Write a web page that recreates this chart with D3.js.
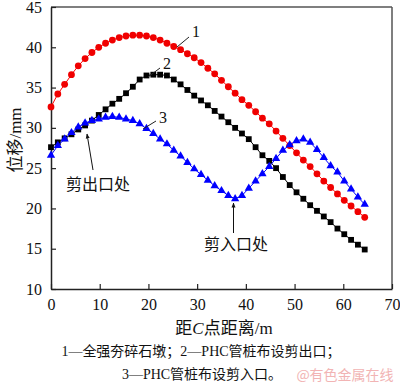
<!DOCTYPE html>
<html>
<head>
<meta charset="utf-8">
<script src="https://cdn.jsdelivr.net/npm/d3@7"></script>
<style>
  body { margin: 0; background: #fff; }
  svg { display: block; }
</style>
</head>
<body>
<svg id="chart" width="400" height="385"></svg>
<script>
// distance from point C (m), shared by all three series
const distance = [0, 1.4, 2.8, 4.2, 5.6, 7.0, 8.4, 9.8, 11.2, 12.6, 14.0, 15.4, 16.8, 18.2, 19.6, 21.0,
  22.4, 23.8, 25.2, 26.6, 28.0, 29.4, 30.8, 32.2, 33.6, 35.0, 36.4, 37.8, 39.2, 40.6, 42.0, 43.4,
  44.8, 46.2, 47.6, 49.0, 50.4, 51.8, 53.2, 54.6, 56.0, 57.4, 58.8, 60.2, 61.6, 63.0, 64.4];

// 1 — full dynamic-compaction gravel piers
const series1 = [32.6, 34.2, 35.4, 36.6, 37.7, 38.6, 39.35, 40.0, 40.5, 40.9, 41.2, 41.4, 41.5, 41.5, 41.4, 41.2,
  40.9, 40.5, 40.1, 39.7, 39.2, 38.7, 38.1, 37.4, 36.7, 35.9, 35.1, 34.3, 33.5, 32.8, 32.0, 31.2,
  30.5, 29.6, 28.7, 27.8, 26.9, 26.0, 25.2, 24.3, 23.4, 22.6, 21.8, 21.0, 20.3, 19.6, 18.9];

// 2 — PHC piles at shear outlet
const series2 = [27.6, 28.2, 28.7, 29.2, 29.8, 30.3, 30.9, 31.6, 32.3, 33.0, 33.6, 34.3, 35.1, 36.0, 36.5, 36.6,
  36.6, 36.5, 36.0, 35.4, 34.7, 34.0, 33.4, 32.8, 32.1, 31.4, 30.7, 30.0, 29.3, 28.6, 27.6, 26.6,
  25.9, 25.0, 23.9, 22.9, 22.0, 21.2, 20.4, 19.7, 19.0, 18.3, 17.5, 16.8, 16.1, 15.5, 14.9];

// 3 — PHC piles at shear inlet
const series3 = [26.6, 27.8, 28.6, 29.4, 30.1, 30.6, 30.9, 31.1, 31.3, 31.4, 31.3, 31.1, 30.9, 30.5, 29.9, 29.3,
  28.6, 28.0, 27.2, 26.5, 25.7, 24.9, 24.2, 23.5, 22.8, 22.2, 21.6, 21.2, 21.6, 22.5, 23.4, 24.3,
  25.2, 26.2, 27.2, 27.9, 28.4, 28.6, 28.2, 27.3, 26.3, 25.3, 24.5, 23.4, 22.4, 21.4, 20.5];

const xTicks = [0, 10, 20, 30, 40, 50, 60, 70];
const yTicks = [10, 15, 20, 25, 30, 35, 40, 45];

const serif = "'Liberation Serif', 'Times New Roman', 'Noto Sans CJK SC', serif";
const cjk = "'Liberation Serif', 'Noto Sans CJK SC', sans-serif";

const svg = d3.select("#chart");
const margin = { top: 7, right: 8, bottom: 96, left: 51 };
const width = 400 - margin.left - margin.right;
const height = 385 - margin.top - margin.bottom;

const g = svg.append("g").attr("transform", `translate(${margin.left},${margin.top})`);

const x = d3.scaleLinear().domain([0, 70]).range([0, width]);
const y = d3.scaleLinear().domain([10, 45]).range([height, 0]);

// frame: top and right in grey
g.append("line").attr("x1", 0).attr("x2", width).attr("y1", 0).attr("y2", 0)
  .attr("stroke", "#555").attr("stroke-width", 1.5);
g.append("line").attr("x1", width).attr("x2", width).attr("y1", 0).attr("y2", height)
  .attr("stroke", "#555").attr("stroke-width", 1.5);

// x axis
const xAxis = g.append("g")
  .attr("transform", `translate(0,${height})`)
  .call(d3.axisBottom(x).tickValues(xTicks).tickSizeInner(-5).tickSizeOuter(0).tickPadding(10));
xAxis.select(".domain").attr("stroke", "#222").attr("stroke-width", 1.5);
xAxis.selectAll(".tick line").attr("stroke", "#222").attr("stroke-width", 1.2);
xAxis.selectAll("text").style("font-family", serif).style("font-size", "16px").style("fill", "#111");

// y axis
const yAxis = g.append("g")
  .call(d3.axisLeft(y).tickValues(yTicks).tickSizeInner(-5).tickSizeOuter(0).tickPadding(9));
yAxis.select(".domain").attr("stroke", "#222").attr("stroke-width", 1.5);
yAxis.selectAll(".tick line").attr("stroke", "#222").attr("stroke-width", 1.2);
yAxis.selectAll("text").style("font-family", serif).style("font-size", "16px").style("fill", "#111");

// series
const lineGen = (vals) => d3.line().x((d, i) => x(distance[i])).y((d) => y(d))(vals);

// 1: red circles
g.append("path").attr("d", lineGen(series1)).attr("fill", "none").attr("stroke", "#ff0000").attr("stroke-width", 1);
g.selectAll(".s1").data(series1).enter().append("circle")
  .attr("cx", (d, i) => x(distance[i])).attr("cy", (d) => y(d)).attr("r", 3.4).attr("fill", "#f00000");

// 2: black squares
g.append("path").attr("d", lineGen(series2)).attr("fill", "none").attr("stroke", "#000").attr("stroke-width", 1);
g.selectAll(".s2").data(series2).enter().append("rect")
  .attr("x", (d, i) => x(distance[i]) - 2.9).attr("y", (d) => y(d) - 2.9)
  .attr("width", 5.8).attr("height", 5.8).attr("fill", "#000");

// 3: blue triangles
g.append("path").attr("d", lineGen(series3)).attr("fill", "none").attr("stroke", "#0000ff").attr("stroke-width", 1);
const tri = d3.symbol().type(d3.symbolTriangle).size(30);
g.selectAll(".s3").data(series3).enter().append("path")
  .attr("d", tri)
  .attr("transform", (d, i) => `translate(${x(distance[i])},${y(d)})`)
  .attr("fill", "#0000ff");

// curve labels with leader lines (absolute coordinates)
const leaders = [
  { x1: 177, y1: 47, x2: 189, y2: 37, label: "1", tx: 196, ty: 37 },
  { x1: 148, y1: 77, x2: 160, y2: 68, label: "2", tx: 167, ty: 69 },
  { x1: 143, y1: 129, x2: 156, y2: 121, label: "3", tx: 163, ty: 123 }
];
leaders.forEach((d) => {
  svg.append("line").attr("x1", d.x1).attr("y1", d.y1).attr("x2", d.x2).attr("y2", d.y2)
    .attr("stroke", "#222").attr("stroke-width", 1);
  svg.append("text").attr("x", d.tx).attr("y", d.ty).attr("text-anchor", "middle")
    .style("font-family", serif).style("font-size", "16px").style("fill", "#111").text(d.label);
});

// arrows
svg.append("defs").append("marker")
  .attr("id", "arrow").attr("viewBox", "0 0 10 10").attr("refX", 9).attr("refY", 5)
  .attr("markerWidth", 5).attr("markerHeight", 6).attr("orient", "auto-start-reverse")
  .append("path").attr("d", "M0,1 L10,5 L0,9 Z").attr("fill", "#111");

svg.append("line").attr("x1", 93).attr("y1", 170).attr("x2", 87).attr("y2", 134)
  .attr("stroke", "#111").attr("stroke-width", 1).attr("marker-end", "url(#arrow)");
svg.append("text").attr("x", 98).attr("y", 190).attr("text-anchor", "middle")
  .style("font-family", cjk).style("font-size", "16px").style("fill", "#111").text("剪出口处");

svg.append("line").attr("x1", 233.5).attr("y1", 233).attr("x2", 233.5).attr("y2", 203)
  .attr("stroke", "#111").attr("stroke-width", 1).attr("marker-end", "url(#arrow)");
svg.append("text").attr("x", 236).attr("y", 250).attr("text-anchor", "middle")
  .style("font-family", cjk).style("font-size", "16px").style("fill", "#111").text("剪入口处");

// axis titles
svg.append("text")
  .attr("transform", "translate(21,140) rotate(-90)")
  .attr("text-anchor", "middle")
  .style("font-family", cjk).style("font-size", "17px").style("fill", "#111")
  .text("位移/mm");

const xt = svg.append("text").attr("x", 224).attr("y", 334).attr("text-anchor", "middle")
  .style("font-family", cjk).style("font-size", "17px").style("fill", "#111");
xt.append("tspan").text("距");
xt.append("tspan").style("font-style", "italic").style("font-family", serif).text("C");
xt.append("tspan").text("点距离/m");

// caption
svg.append("text").attr("x", 201).attr("y", 356).attr("text-anchor", "middle")
  .style("font-family", cjk).style("font-size", "14px").style("fill", "#111")
  .text("1—全强夯碎石墩；2—PHC管桩布设剪出口；");
svg.append("text").attr("x", 202).attr("y", 379).attr("text-anchor", "middle")
  .style("font-family", cjk).style("font-size", "14px").style("fill", "#111")
  .text("3—PHC管桩布设剪入口。");

// watermark
svg.append("text").attr("x", 345).attr("y", 380).attr("text-anchor", "middle")
  .style("font-family", "'Noto Sans CJK SC', sans-serif").style("font-size", "14px")
  .style("fill", "#f0a8a8").style("opacity", 0.85)
  .text("@有色金属在线");
</script>
</body>
</html>
